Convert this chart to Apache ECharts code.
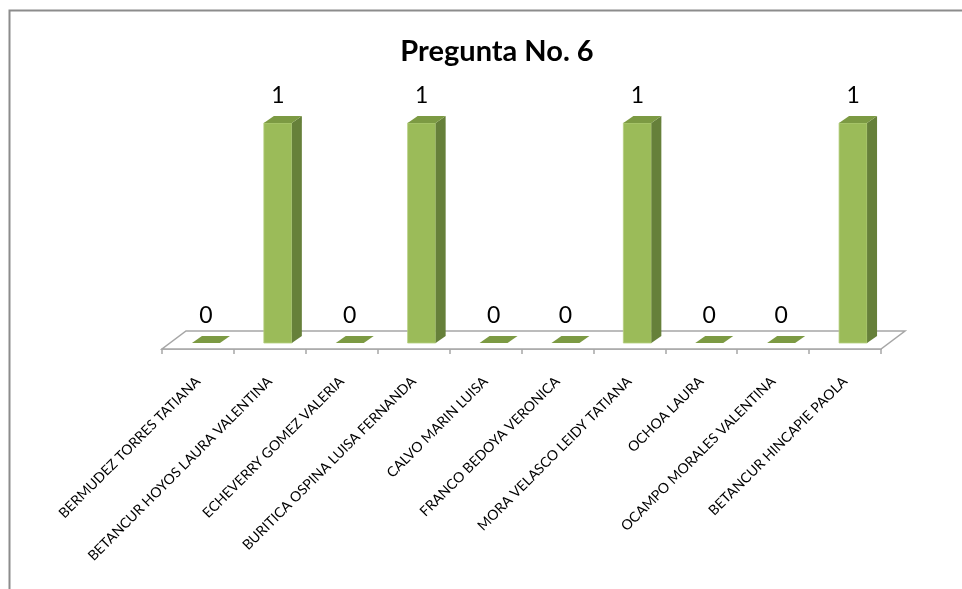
<!DOCTYPE html>
<html>
<head>
<meta charset="utf-8">
<script src="https://cdn.jsdelivr.net/npm/echarts@6/dist/echarts.min.js"></script>
<style>
  html, body { margin: 0; padding: 0; background: #ffffff; }
  #chart { width: 962px; height: 589px; }
</style>
</head>
<body>
<div id="chart"></div>
<script>
// Question 6 answers per student
const categories = [
  'BERMUDEZ TORRES TATIANA',
  'BETANCUR HOYOS LAURA VALENTINA',
  'ECHEVERRY GOMEZ VALERIA',
  'BURITICA OSPINA LUISA FERNANDA',
  'CALVO MARIN LUISA',
  'FRANCO BEDOYA VERONICA',
  'MORA VELASCO LEIDY TATIANA',
  'OCHOA LAURA',
  'OCAMPO MORALES VALENTINA',
  'BETANCUR HINCAPIE PAOLA'
];
const values = [0, 1, 0, 1, 0, 0, 1, 0, 0, 1];
const titleText = 'Pregunta No. 6';

const FONT = 'Lato, "Open Sans", sans-serif';

// pseudo-3D geometry
const FLOOR_DX = 24, FLOOR_DY = -18;   // depth of the floor
const BAR_DX = 8, BAR_DY = -6;         // bar placed inside the floor depth
const BAR_W = 28;                       // front face width
const SIDE_DX = 10, SIDE_DY = -7;      // bar depth

const FRONT = '#9BBB59';
const SIDE = '#66803A';
const TOP = '#7C9A43';

function renderFloor(params, api) {
  const cs = params.coordSys;
  const x0 = cs.x, x1 = cs.x + cs.width, y0 = cs.y + cs.height;
  return {
    type: 'polygon',
    z2: 0,
    shape: { points: [
      [x0, y0], [x1, y0], [x1 + FLOOR_DX, y0 + FLOOR_DY], [x0 + FLOOR_DX, y0 + FLOOR_DY]
    ] },
    style: { fill: '#ffffff', stroke: '#A6A6A6', lineWidth: 1.5 }
  };
}

function renderBar(params, api) {
  const idx = api.value(0);
  const v = api.value(1);
  const base = api.coord([idx, 0]);
  const top = api.coord([idx, v]);
  const xl = base[0] + BAR_DX - BAR_W / 2;
  const xr = xl + BAR_W;
  const yb = base[1] + BAR_DY;
  const yt = top[1] + BAR_DY;
  const children = [];
  if (yb - yt > 0.5) {
    children.push({
      type: 'rect',
      shape: { x: xl, y: yt, width: BAR_W, height: yb - yt },
      style: { fill: FRONT, stroke: '#B5CF80', lineWidth: 0.8 }
    });
    children.push({
      type: 'polygon',
      shape: { points: [[xr, yt], [xr + SIDE_DX, yt + SIDE_DY], [xr + SIDE_DX, yb + SIDE_DY], [xr, yb]] },
      style: { fill: SIDE }
    });
  }
  children.push({
    type: 'polygon',
    shape: { points: [[xl, yt], [xr, yt], [xr + SIDE_DX, yt + SIDE_DY], [xl + SIDE_DX, yt + SIDE_DY]] },
    style: { fill: TOP }
  });
  children.push({
    type: 'text',
    style: {
      text: String(v),
      x: base[0] + BAR_DX,
      y: yt - 27,
      align: 'center',
      verticalAlign: 'middle',
      fill: '#000000',
      font: '23px ' + FONT
    }
  });
  return { type: 'group', children: children };
}

const chart = echarts.init(document.getElementById('chart'), null, { renderer: 'canvas' });
chart.setOption({
  backgroundColor: '#ffffff',
  animation: false,
  title: {
    text: titleText,
    left: 492,
    top: 32,
    textAlign: 'center',
    textStyle: { fontFamily: FONT, fontSize: 29, fontWeight: 'bold', color: '#000000' }
  },
  graphic: [{
    type: 'rect',
    shape: { x: 9.5, y: 10.5, width: 1000, height: 700 },
    style: { fill: 'none', stroke: '#8C8C8C', lineWidth: 2 },
    silent: true
  }],
  grid: { left: 162, right: 81, top: 129, bottom: 240 },
  xAxis: {
    type: 'category',
    data: categories,
    boundaryGap: true,
    axisLine: { show: true, lineStyle: { color: '#A6A6A6', width: 1.5 } },
    axisTick: { show: true, length: 5, lineStyle: { color: '#A6A6A6', width: 1.5 } },
    axisLabel: {
      rotate: 45,
      margin: 30,
      interval: 0,
      fontFamily: FONT,
      fontSize: 14,
      color: '#000000'
    },
    splitLine: { show: false }
  },
  yAxis: {
    type: 'value',
    min: 0,
    max: 1,
    show: false
  },
  series: [
    {
      type: 'custom',
      name: 'floor',
      renderItem: renderFloor,
      data: [[0]],
      z: 1,
      silent: true
    },
    {
      type: 'custom',
      name: 'Pregunta No. 6',
      renderItem: renderBar,
      encode: { x: 0, y: 1 },
      data: values.map((v, i) => [i, v]),
      z: 3
    }
  ]
});
</script>
</body>
</html>
